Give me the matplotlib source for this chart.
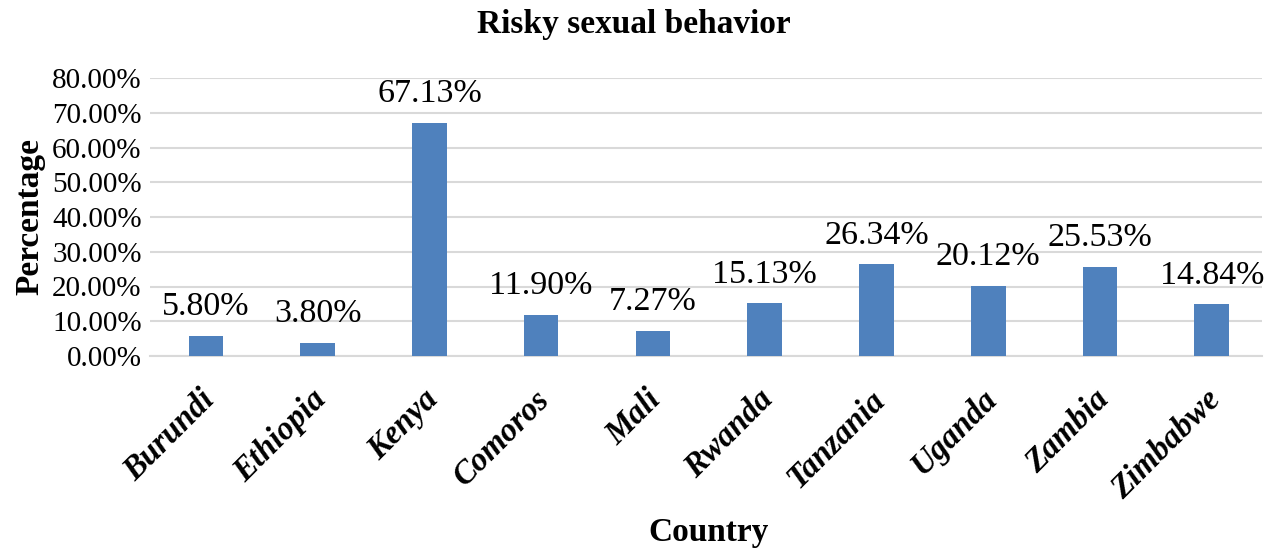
import matplotlib
matplotlib.use("Agg")
import matplotlib.pyplot as plt
from matplotlib.ticker import FuncFormatter
from matplotlib.transforms import ScaledTranslation

countries = ["Burundi", "Ethiopia", "Kenya", "Comoros", "Mali", "Rwanda",
             "Tanzania", "Uganda", "Zambia", "Zimbabwe"]
values = [5.80, 3.80, 67.13, 11.90, 7.27, 15.13, 26.34, 20.12, 25.53, 14.84]
yticks = [0, 10, 20, 30, 40, 50, 60, 70, 80]

plt.rcParams['font.family'] = ['Liberation Serif', 'DejaVu Serif']

fig = plt.figure(figsize=(12.69, 5.49), dpi=100)
ax = fig.add_axes([150/1269, 1-356/549, (1262-150)/1269, (356-78)/549])

x = list(range(len(countries)))
bars = ax.bar(x, values, width=0.31, color="#4F81BD", zorder=3)
for xi, v in zip(x, values):
    ax.annotate(f"{v:.2f}%", (xi, v), xytext=(0, 10), textcoords="offset points",
                ha="center", va="bottom", fontsize=24.5, zorder=4)

ax.set_xlim(-0.5, len(countries) - 0.55)
ax.set_ylim(0, 80)
ax.set_yticks(yticks)
ax.yaxis.set_major_formatter(FuncFormatter(lambda v, p: f"{v:.2f}%"))
ax.grid(axis="y", color="#D9D9D9", linewidth=1.5, zorder=0)
ax.set_axisbelow(True)
for s in ["top", "right", "left"]:
    ax.spines[s].set_visible(False)
ax.spines["bottom"].set_color("#D9D9D9")
ax.spines["bottom"].set_linewidth(1.5)
ax.tick_params(axis="both", length=0)
ax.tick_params(axis="y", labelsize=21, pad=6)
ax.set_xticks(x)
ax.set_xticklabels(countries, rotation=45, ha="right", rotation_mode="anchor",
                   fontsize=23.5, fontweight="bold", fontstyle="italic")
ax.tick_params(axis="x", pad=20)
shift = ScaledTranslation(-7/100, 0, fig.dpi_scale_trans)
for lbl in ax.get_xticklabels():
    lbl.set_transform(lbl.get_transform() + shift)

fig.text(634/1269, 1-25/549, "Risky sexual behavior", ha="center", va="center",
         fontsize=24, fontweight="bold")
fig.text(709/1269, 1-533/549, "Country", ha="center", va="center",
         fontsize=24, fontweight="bold")
fig.text(30/1269, 1-217/549, "Percentage", ha="center", va="center",
         rotation=90, fontsize=24, fontweight="bold")

fig.savefig("out.png", dpi=100)
